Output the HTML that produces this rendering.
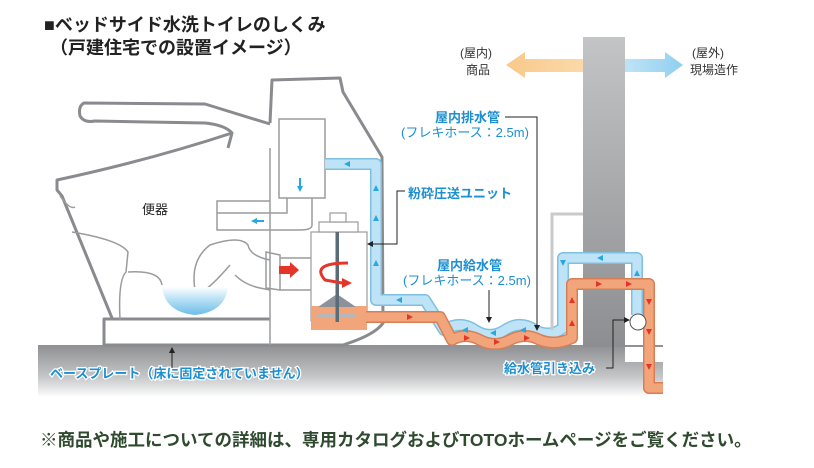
<!DOCTYPE html>
<html><head><meta charset="utf-8"><style>
html,body{margin:0;padding:0;background:#fff;}
body{width:814px;height:463px;overflow:hidden;font-family:"Liberation Sans","Noto Sans CJK JP",sans-serif;}
</style></head><body>
<svg width="814" height="463" viewBox="0 0 814 463" xmlns="http://www.w3.org/2000/svg" font-family="Liberation Sans, Noto Sans CJK JP, sans-serif">
<defs>
<linearGradient id="fl" x1="0" y1="0" x2="0" y2="1"><stop offset="0" stop-color="#8e8f92"/><stop offset="0.6" stop-color="#c4c5c7"/><stop offset="1" stop-color="#ffffff"/></linearGradient>
<linearGradient id="wl" x1="0" y1="0" x2="0" y2="1"><stop offset="0" stop-color="#c3c4c6"/><stop offset="1" stop-color="#8d8e91"/></linearGradient>
<linearGradient id="wt" x1="0" y1="0" x2="0" y2="1"><stop offset="0" stop-color="#fff"/><stop offset="0.4" stop-color="#bfe3f6"/><stop offset="1" stop-color="#6bbde8"/></linearGradient>
<linearGradient id="oa" x1="0" y1="0" x2="1" y2="0"><stop offset="0" stop-color="#f8c98a"/><stop offset="1" stop-color="#fbd9a8"/></linearGradient>
<linearGradient id="ba" x1="0" y1="0" x2="1" y2="0"><stop offset="0" stop-color="#bfe3f6"/><stop offset="1" stop-color="#8fd0f0"/></linearGradient>
</defs>
<text x="44" y="31" font-size="18" font-weight="bold" fill="#222">■ベッドサイド水洗トイレのしくみ</text>
<text x="50" y="54" font-size="18" font-weight="bold" fill="#222">（戸建住宅での設置イメージ）</text>
<rect x="38" y="345" width="625" height="52" fill="url(#fl)"/>
<rect x="583" y="37" width="42" height="310" fill="url(#wl)"/>
<rect x="625" y="347" width="38" height="15" fill="#fff"/>
<polygon points="583,59 525,59 525,52 506,65 525,78 525,72 583,72" fill="url(#oa)"/>
<polygon points="625,59 665,59 665,52 683,65 665,78 665,72 625,72" fill="url(#ba)"/>
<text x="460" y="57" font-size="12" fill="#333">(屋内)</text>
<text x="466" y="74" font-size="12" fill="#333">商品</text>
<text x="692" y="57" font-size="12" fill="#333">(屋外)</text>
<text x="690" y="74" font-size="12" fill="#333">現場造作</text>
<g fill="none" stroke="#8a8b8e" stroke-width="3" stroke-linejoin="round">
<path d="M270,124 L205,104 L84,103 Q78,106 80,116 Q84,123 95,121 L205,123 Q225,125 232,133 L228,148"/>
<path d="M232,133 Q150,160 57,180 L57,190 L62,196 L112,318"/>
<path d="M270,123 L272,80 L340,78 L343,92 L382,157 L383,323 Q375,335 343,345 L104,345 L104,319 L270,319"/>
</g>
<g fill="none" stroke="#9a9b9e" stroke-width="1.5">
<line x1="270" y1="148" x2="270" y2="345"/>
<rect x="279" y="119" width="46" height="79" fill="#fff"/>
<path d="M270,201 L217,201 L217,230 L270,230 M217,213 L270,213"/>
<path d="M287,198 L287,213 L270,213 M312,198 L312,225 Q312,230 300,230 L270,230"/>
<path d="M60,196 Q70,210 75,207 M72,232 Q120,240 128,252 L126,272 Q118,280 120,320"/>
<path d="M128,272 Q160,270 162,285 M230,265 Q200,300 195,290 Q190,260 210,245 Q240,235 248,245 Q250,256 270,260"/>
<path d="M235,275 Q245,285 260,288 L270,290"/>
<path d="M266,252 L280,255 L280,290 L266,288 Z"/>
<path d="M280,258 L311,258 M280,290 L311,290"/>
</g>
<path d="M162,287 Q165,312 195,315 Q225,312 228,287 Z" fill="url(#wt)"/>
<rect x="311" y="232" width="56" height="89" fill="#fff" stroke="#9a9b9e" stroke-width="1.2"/>
<rect x="319" y="222" width="39" height="10" fill="#fff" stroke="#9a9b9e" stroke-width="1.2"/>
<rect x="330" y="213" width="16" height="9" fill="#fff" stroke="#9a9b9e" stroke-width="1.2"/>
<rect x="311" y="306" width="56" height="24" fill="#f2a57a"/>
<polygon points="318,307 337,294 356,307" fill="#8d9199"/>
<rect x="318" y="313" width="38" height="4" fill="#b5b7bb"/>
<rect x="335.5" y="232" width="3.5" height="90" fill="#5c6b78"/>
<path d="M348,263 Q310,263 325,280 L342,283" fill="none" stroke="#e53528" stroke-width="3"/>
<polygon points="342,278 352,283 342,288" fill="#e53528"/>
<polygon points="279,266 290,266 290,262 299,270 290,278 290,274 279,274" fill="#e53528"/>
<polygon points="297,186 303,186 300,192" fill="#29a7e1"/><rect x="299" y="178" width="2" height="8" fill="#29a7e1"/>
<polygon points="251,221 257,218 257,224" fill="#29a7e1"/><rect x="256" y="220" width="8" height="2" fill="#29a7e1"/>
<g fill="none" stroke-linejoin="round">
<path d="M325,164 L376,164 L376,300 L425,300 L444,330 Q460,320 475,330 Q490,340 505,330 Q520,320 535,330 Q550,338 563,328 L563,258 L637,258 L637,315" stroke="#7fbfe0" stroke-width="12"/>
<path d="M325,164 L376,164 L376,300 L425,300 L444,330 Q460,320 475,330 Q490,340 505,330 Q520,320 535,330 Q550,338 563,328 L563,258 L637,258 L637,315" stroke="#bfe3f6" stroke-width="9"/>
<path d="M366,317 L440,317 L452,340 Q465,332 480,340 Q495,348 510,340 Q525,332 540,340 Q555,346 572,338 L572,284 L649,284 L649,388 L663,388" stroke="#d77e56" stroke-width="12"/>
<path d="M366,317 L440,317 L452,340 Q465,332 480,340 Q495,348 510,340 Q525,332 540,340 Q555,346 572,338 L572,284 L649,284 L649,388 L663,388" stroke="#f2a57a" stroke-width="9"/>
</g>
<circle cx="638" cy="322" r="8" fill="#fff" stroke="#555" stroke-width="1"/>
<g fill="#29a7e1">
<polygon points="376,185 373,191 379,191"/><polygon points="376,215 373,221 379,221"/><polygon points="376,260 373,266 379,266"/>
<polygon points="344,164 350,161 350,167"/><polygon points="396,300 402,297 402,303"/>
<polygon points="462,330 468,327 468,333"/><polygon points="490,333 496,330 496,336"/><polygon points="520,330 526,327 526,333"/>
<polygon points="597,258 603,255 603,261"/><polygon points="563,266 560,260 566,260"/><polygon points="637,270 634,276 640,276"/>
</g>
<g fill="#e53528">
<polygon points="413,317 407,314 407,320"/><polygon points="470,338 464,335 464,341"/><polygon points="500,342 494,339 494,345"/><polygon points="530,338 524,335 524,341"/>
<polygon points="572,297 569,303 575,303"/><polygon points="572,320 569,326 575,326"/>
<polygon points="602,284 596,281 596,287"/><polygon points="632,284 626,281 626,287"/>
<polygon points="649,305 646,299 652,299"/><polygon points="649,335 646,329 652,329"/><polygon points="649,370 646,364 652,364"/>
</g>
<path d="M552,330 L552,214 L583,214" fill="none" stroke="#c9cacc" stroke-width="3"/>
<text x="142" y="214" font-size="13" fill="#222">便器</text>
<text x="435" y="122" font-size="13" font-weight="bold" fill="#1d8fd0">屋内排水管</text>
<text x="401" y="137" font-size="13" fill="#1d8fd0">(フレキホース：2.5m)</text>
<text x="408" y="198" font-size="13" font-weight="bold" fill="#1d8fd0">粉砕圧送ユニット</text>
<text x="437" y="270" font-size="13" font-weight="bold" fill="#1d8fd0">屋内給水管</text>
<text x="403" y="285" font-size="13" fill="#1d8fd0">(フレキホース：2.5m)</text>
<text x="504" y="373" font-size="13" font-weight="bold" fill="#1d8fd0" stroke="#fff" stroke-width="2.5" paint-order="stroke">給水管引き込み</text>
<text x="50" y="378" font-size="13" font-weight="bold" fill="#1d8fd0" stroke="#fff" stroke-width="2.5" paint-order="stroke">ベースプレート（床に固定されていません）</text>
<g fill="none" stroke="#222" stroke-width="1">
<path d="M505,117 L537,117 L537,328"/>
<path d="M405,191 L397,191 L397,244 L370,244"/>
<line x1="489" y1="290" x2="489" y2="320"/>
<path d="M606,368 L613,368 L613,320 L628,320"/>
<line x1="172" y1="368" x2="172" y2="350"/>
</g>
<g fill="#222">
<polygon points="537,331 534,325 540,325"/><polygon points="367,244 373,241 373,247"/><polygon points="489,323 486,317 492,317"/>
<polygon points="630,320 624,317 624,323"/><polygon points="172,347 169,353 175,353"/>
</g>
<text x="40" y="446" font-size="17.5" font-weight="bold" fill="#2f4a2f">※商品や施工についての詳細は、専用カタログおよびTOTOホームページをご覧ください。</text>
</svg>
</body></html>
